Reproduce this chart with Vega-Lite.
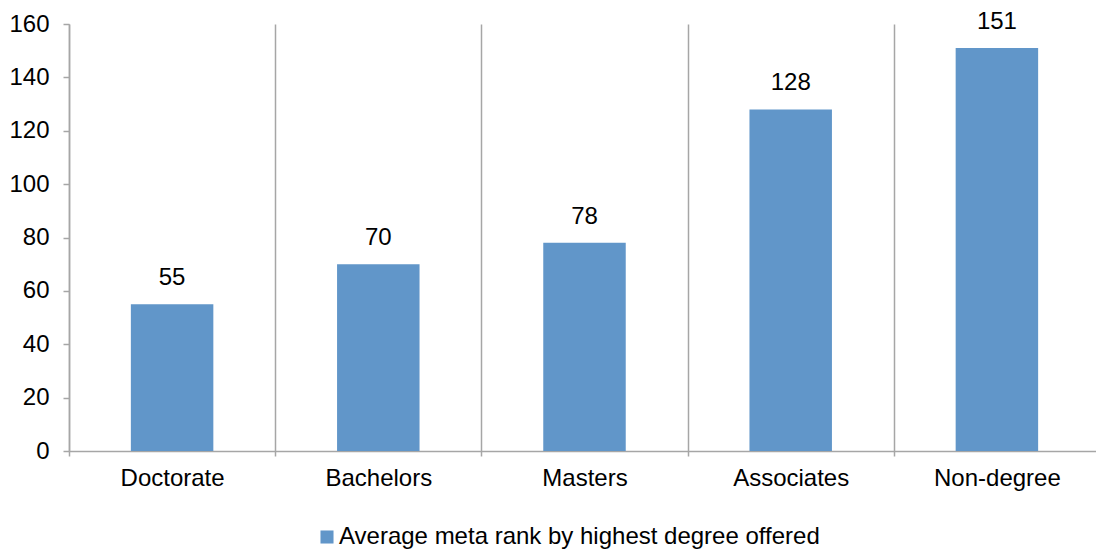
{
  "$schema": "https://vega.github.io/schema/vega-lite/v6.json",
  "autosize": "none",
  "width": 1031,
  "height": 427,
  "padding": {"left": 69, "top": 24, "right": 0, "bottom": 100},
  "background": "white",
  "config": {
    "view": {"stroke": null},
    "font": "Liberation Sans"
  },
  "data": {
    "values": [
      {"degree": "Doctorate", "rank": 55, "series": "Average meta rank by highest degree offered"},
      {"degree": "Bachelors", "rank": 70, "series": "Average meta rank by highest degree offered"},
      {"degree": "Masters", "rank": 78, "series": "Average meta rank by highest degree offered"},
      {"degree": "Associates", "rank": 128, "series": "Average meta rank by highest degree offered"},
      {"degree": "Non-degree", "rank": 151, "series": "Average meta rank by highest degree offered"}
    ]
  },
  "encoding": {
    "x": {
      "field": "degree",
      "type": "nominal",
      "sort": null,
      "scale": {"paddingInner": 0, "paddingOuter": 0},
      "axis": {
        "title": null,
        "labelAngle": 0,
        "labelFontSize": 24,
        "labelColor": "#000000",
        "labelPadding": 10,
        "tickBand": "extent",
        "ticks": true,
        "tickSize": 5,
        "tickColor": "#a6a6a6",
        "tickWidth": 1.5,
        "domainColor": "#a6a6a6",
        "domainWidth": 1.5,
        "grid": true,
        "gridColor": "#a6a6a6",
        "gridWidth": 1.5
      }
    },
    "y": {
      "field": "rank",
      "type": "quantitative",
      "scale": {"domain": [0, 160], "nice": false},
      "axis": {
        "title": null,
        "values": [0, 20, 40, 60, 80, 100, 120, 140, 160],
        "grid": false,
        "labelFontSize": 24,
        "labelColor": "#000000",
        "labelPadding": 14,
        "tickSize": 6,
        "tickColor": "#a6a6a6",
        "tickWidth": 1.5,
        "domainColor": "#a6a6a6",
        "domainWidth": 1.5
      }
    }
  },
  "layer": [
    {
      "mark": {"type": "bar", "color": "#6196C9", "width": {"band": 0.4}},
      "encoding": {
        "color": {
          "field": "series",
          "type": "nominal",
          "scale": {"range": ["#6196C9"]},
          "legend": {
            "title": null,
            "orient": "none",
            "legendX": 246,
            "legendY": 501,
            "symbolType": "square",
            "symbolSize": 170,
            "symbolStrokeWidth": 0,
            "labelFontSize": 24,
            "labelColor": "#000000",
            "labelOffset": 0,
            "labelLimit": 700
          }
        }
      }
    },
    {
      "mark": {"type": "text", "baseline": "bottom", "dy": -14, "fontSize": 24, "color": "#000000"},
      "encoding": {
        "text": {"field": "rank", "type": "quantitative"}
      }
    }
  ]
}
